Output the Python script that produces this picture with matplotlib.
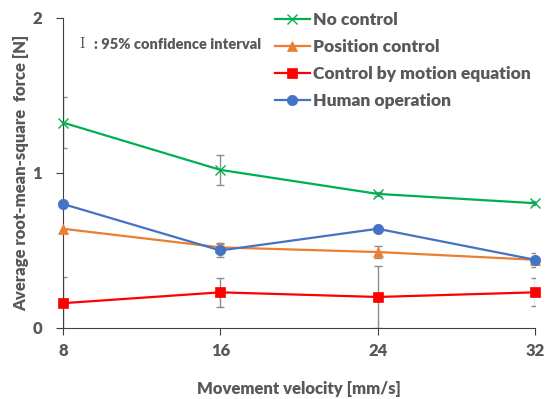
import matplotlib
matplotlib.use("Agg")
import matplotlib.pyplot as plt

# data
velocity = [8, 16, 24, 32]
no_control = [1.325, 1.02, 0.865, 0.805]
no_control_err = [0.165, 0.095, 0.015, 0.012]
position_control = [0.64, 0.52, 0.49, 0.44]
position_control_err = [0.0, 0.03, 0.04, 0.02]
motion_eq = [0.16, 0.23, 0.20, 0.23]
motion_eq_err = [0.17, 0.095, 0.20, 0.09]
human = [0.80, 0.50, 0.64, 0.44]
human_err = [0.0, 0.04, 0.0, 0.045]

series = [
    ("No control", no_control, no_control_err, "#00B050", "x"),
    ("Position control", position_control, position_control_err, "#ED7D31", "^"),
    ("Control by motion equation", motion_eq, motion_eq_err, "#FF0000", "s"),
    ("Human operation", human, human_err, "#4472C4", "o"),
]

plt.rcParams['font.family'] = ['Lato', 'DejaVu Sans']
gray = "#595959"

fig = plt.figure(figsize=(5.52, 3.99), dpi=100)
ax = fig.add_axes([0.1141, 0.178, 0.8551, 0.777])

for name, vals, errs, color, marker in series:
    ax.errorbar(velocity, vals, yerr=errs, fmt="none", ecolor="#8C8C8C",
                elinewidth=1, capsize=3, capthick=1, zorder=2)
    ms = 7 if marker == "x" else 7.5
    ax.plot(velocity, vals, color=color, marker=marker, markersize=ms,
            linewidth=1.6, label=name, zorder=3, clip_on=False,
            markeredgewidth=1 if marker == "x" else 0.5)

ax.set_xlim(8, 32)
ax.set_ylim(0, 2)
ax.set_xticks(velocity)
ax.set_yticks([0, 1, 2])
ax.tick_params(axis="both", colors="#404040", length=5, labelcolor=gray,
               labelsize=12)
for lab in ax.get_xticklabels() + ax.get_yticklabels():
    lab.set_fontweight("heavy")
ax.tick_params(axis="x", pad=6)
ax.tick_params(axis="y", pad=10)

ax.spines["top"].set_visible(False)
ax.spines["right"].set_visible(False)
ax.spines["left"].set_color("#404040")
ax.spines["bottom"].set_color("#404040")

ax.set_xlabel("Movement velocity [mm/s]", fontsize=12, fontweight="heavy",
              color=gray, labelpad=16)
ax.set_ylabel("Average root-mean-square  force [N]", fontsize=12,
              fontweight="heavy", color=gray, labelpad=2)

ax.text(0.035, 0.915, "I", transform=ax.transAxes, fontsize=10,
        family="DejaVu Serif", color=gray, va="center")
ax.text(0.066, 0.915, ": 95% confidence interval", transform=ax.transAxes,
        fontsize=10.5, fontweight="heavy", color=gray, va="center")

leg = ax.legend(loc="upper left", bbox_to_anchor=(0.434, 1.04), frameon=False,
                handlelength=2.0, handletextpad=0.2, labelspacing=0.62,
                borderaxespad=0,
                prop={"weight": "heavy", "size": 12.5})
for t in leg.get_texts():
    t.set_color(gray)

fig.savefig("out.png", dpi=100)
